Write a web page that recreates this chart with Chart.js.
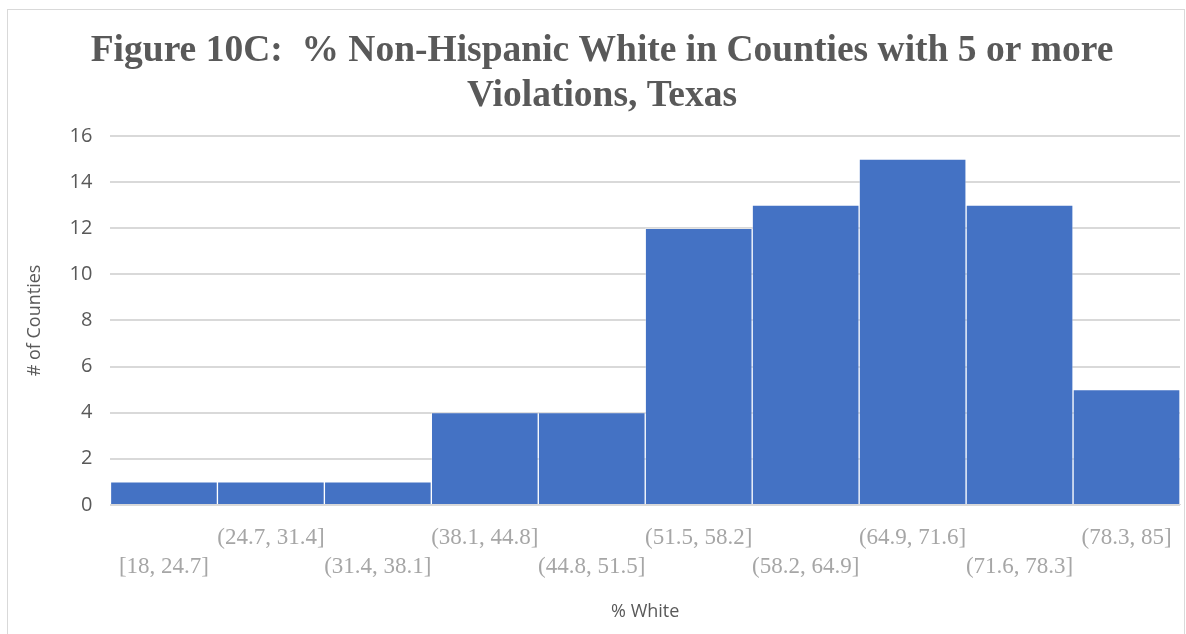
<!DOCTYPE html>
<html>
<head>
<meta charset="utf-8">
<script src="https://cdn.jsdelivr.net/npm/chart.js@4/dist/chart.umd.min.js"></script>
<style>
  html, body { margin: 0; padding: 0; background: #fff; }
  #frame {
    position: absolute; left: 7px; top: 9px; width: 1178px; height: 630px;
    border: 1px solid #d9d9d9; box-sizing: border-box;
  }
  #wrap { position: absolute; left: 0; top: 0; width: 1186px; height: 634px; }
</style>
</head>
<body>
<div id="frame"></div>
<div id="wrap"><canvas id="histChart"></canvas></div>
<script>
// Histogram bins and counts
const binLabels = ['[18, 24.7]', '(24.7, 31.4]', '(31.4, 38.1]', '(38.1, 44.8]', '(44.8, 51.5]',
                   '(51.5, 58.2]', '(58.2, 64.9]', '(64.9, 71.6]', '(71.6, 78.3]', '(78.3, 85]'];
const counts = [1, 1, 1, 4, 4, 12, 13, 15, 13, 5];
const yTicks = [0, 2, 4, 6, 8, 10, 12, 14, 16];

const ctx = document.getElementById('histChart').getContext('2d');
new Chart(ctx, {
    type: 'bar',
    data: {
        labels: binLabels,
        datasets: [{
            label: '# of Counties',
            data: counts,
            backgroundColor: '#4472c4',
            borderColor: 'rgba(255,255,255,0.3)',
            borderWidth: 1,
            categoryPercentage: 1.0,
            barPercentage: 1.0
        }]
    },
    options: {
        responsive: true,
        maintainAspectRatio: false,
        animation: false,
        layout: { padding: { left: 24, right: 6, top: 29, bottom: 11 } },
        plugins: {
            legend: { display: false },
            tooltip: { enabled: false },
            title: {
                display: true,
                text: ['Figure 10C:  % Non-Hispanic White in Counties with 5 or more', 'Violations, Texas'],
                color: '#595959',
                font: { family: '"Liberation Serif", serif', size: 37.5, weight: 'bold', lineHeight: 1.2 },
                padding: { top: 0, bottom: 17 }
            }
        },
        scales: {
            x: {
                grid: { display: false },
                border: { color: '#d9d9d9' },
                ticks: {
                    color: '#a6a6a6',
                    maxRotation: 0,
                    autoSkip: false,
                    padding: 11,
                    font: { family: '"Liberation Serif", serif', size: 23, lineHeight: 1.25 },
                    callback: function (value, index) {
                        const lbl = binLabels[index];
                        return index % 2 === 1 ? [lbl, ''] : ['', lbl];
                    }
                },
                title: {
                    display: true,
                    text: '% White',
                    color: '#595959',
                    font: { family: '"Open Sans", sans-serif', size: 18 },
                    padding: { top: 9, bottom: 0 }
                }
            },
            y: {
                min: 0,
                max: 16,
                afterBuildTicks: function (axis) {
                    axis.ticks = yTicks.map(v => ({ value: v }));
                },
                grid: { color: '#d9d9d9', lineWidth: 2, drawTicks: false },
                border: { display: false },
                ticks: {
                    color: '#595959',
                    padding: 18,
                    font: { family: '"Open Sans", sans-serif', size: 20 }
                },
                title: {
                    display: true,
                    text: '# of Counties',
                    color: '#595959',
                    font: { family: '"Open Sans", sans-serif', size: 18 },
                    padding: { top: 0, bottom: 6 }
                }
            }
        }
    }
});
</script>
</body>
</html>
